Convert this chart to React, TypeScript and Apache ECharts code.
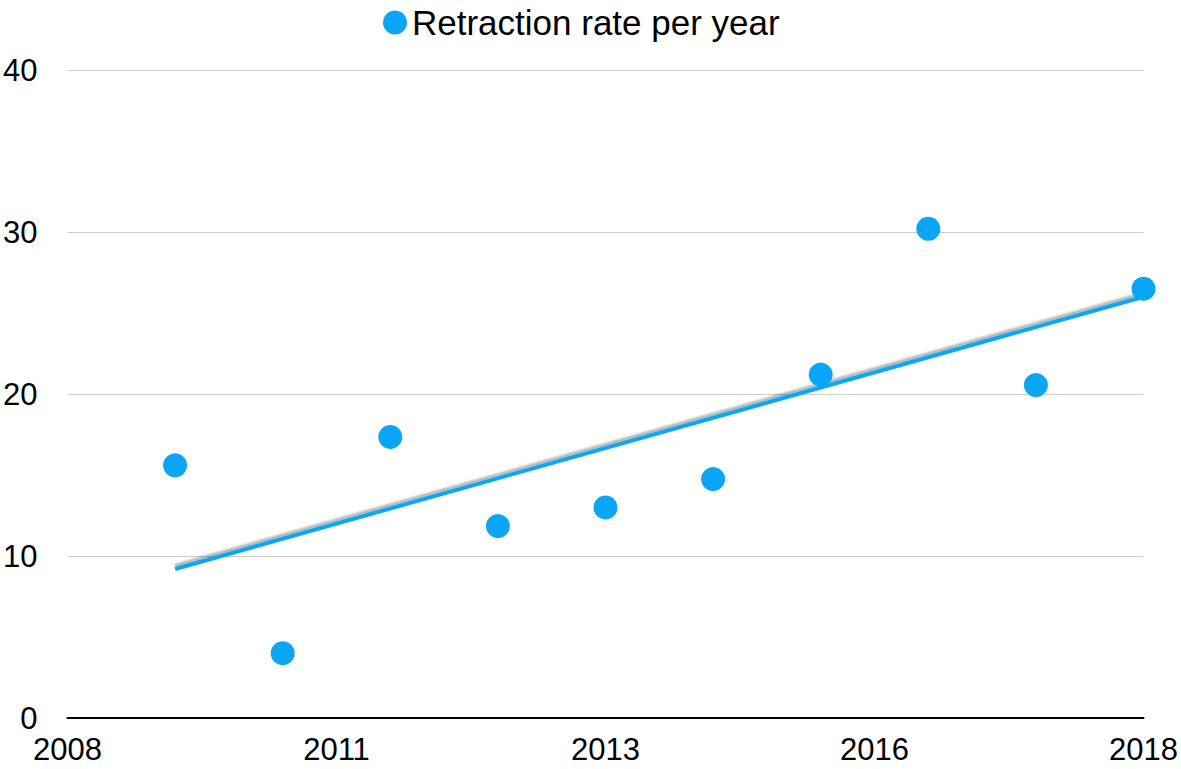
import React, { useEffect, useRef } from "react";
import * as echarts from "echarts";

const years = [2009, 2010, 2011, 2012, 2013, 2014, 2015, 2016, 2017, 2018];
const retractionRate = [15.6, 4.0, 17.35, 11.85, 13.0, 14.75, 21.2, 30.2, 20.55, 26.5];
const trendYears = [2009, 2018];
const trendValues = [9.2, 26.0];
const baseYear = 2008;
const seriesName = "Retraction rate per year";

const FONT = "'Liberation Sans', Arial, sans-serif";
const BLUE = "#0aa5f5";

export default function App() {
  const ref = useRef<HTMLDivElement>(null);
  useEffect(() => {
    if (!ref.current) return;
    const chart = echarts.init(ref.current, null, { renderer: "svg" });
    chart.setOption({
      animation: false,
      backgroundColor: "#ffffff",
      grid: { left: 65, right: 36, top: 70, bottom: 51, containLabel: false },
      legend: {
        data: [seriesName],
        left: 378,
        top: 0,
        icon: "circle",
        itemWidth: 24,
        itemHeight: 24,
        itemGap: 8,
        textStyle: { fontFamily: FONT, fontSize: 35, color: "#000" },
      },
      xAxis: {
        type: "value",
        min: 0,
        max: 10,
        interval: 2.5,
        axisLine: { show: true, lineStyle: { color: "#000", width: 2 } },
        axisTick: { show: false },
        splitLine: { show: false },
        axisLabel: {
          fontFamily: FONT,
          fontSize: 31,
          color: "#000",
          margin: 16,
          formatter: (v: number) => String(Math.round(v + baseYear)),
        },
      },
      yAxis: {
        type: "value",
        min: 0,
        max: 40,
        interval: 10,
        axisLine: { show: false },
        axisTick: { show: false },
        splitLine: { show: true, lineStyle: { color: "#cccccc", width: 1 } },
        axisLabel: { fontFamily: FONT, fontSize: 31, color: "#000", margin: 30 },
      },
      series: [
        {
          name: "Trend",
          type: "line",
          data: trendYears.map((y, i) => [y - baseYear, trendValues[i]]),
          showSymbol: false,
          symbol: "none",
          lineStyle: {
            color: BLUE,
            width: 4,
            shadowColor: "rgba(0,0,0,0.3)",
            shadowBlur: 2,
            shadowOffsetY: -3,
          },
          z: 1,
        },
        {
          name: seriesName,
          type: "scatter",
          data: years.map((y, i) => [y - baseYear, retractionRate[i]]),
          symbolSize: 24,
          itemStyle: { color: BLUE, opacity: 1 },
          z: 2,
        },
      ],
    });
    return () => chart.dispose();
  }, []);
  return (
    <div
      ref={ref}
      style={{ position: "fixed", left: 0, top: 0, width: 1181, height: 769 }}
    />
  );
}
